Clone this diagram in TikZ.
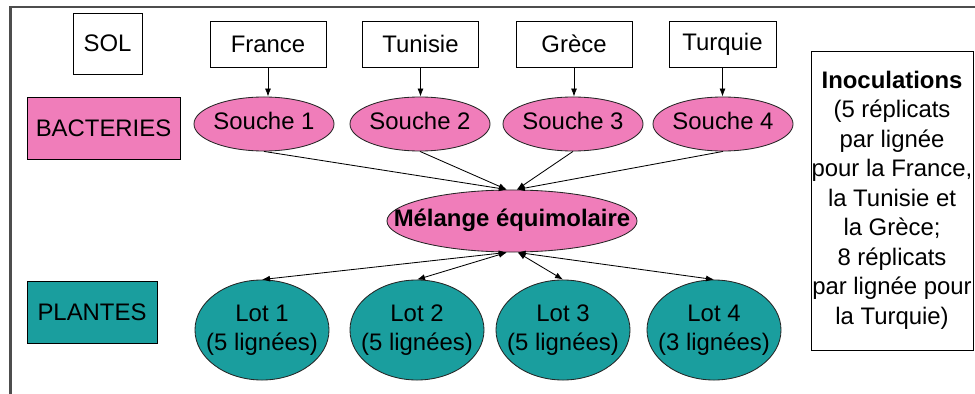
\documentclass[tikz,border=0pt]{standalone}
\usepackage{fontspec}
\setmainfont{Liberation Sans}
\usetikzlibrary{arrows.meta, shapes.geometric}
\definecolor{souchepink}{HTML}{F07DBA}
\definecolor{lotteal}{HTML}{1A9E9E}
\definecolor{framegray}{HTML}{4D4D4D}

% centred text that may run past its shape
\newcommand{\midtext}[1]{\makebox[0pt]{\begin{tabular}{@{}c@{}}#1\end{tabular}}}

\begin{document}
\begin{tikzpicture}[x=0.025cm, y=-0.025cm,
  every node/.style={font=\fontsize{17}{21}\selectfont, inner sep=0pt},
  box/.style={draw, rectangle, line width=0.6pt, fill=white, minimum height=1.15cm},
  souche/.style={draw=black!85, ellipse, line width=0.6pt, fill=souchepink,
    minimum width=3.5cm, minimum height=1.35cm},
  lot/.style={draw=black!85, ellipse, line width=0.6pt, fill=lotteal,
    minimum width=3.35cm, minimum height=2.5cm},
  arr/.style={line width=0.6pt, -{Latex[length=2mm, width=1.5mm]}},
  arrs/.style={line width=0.6pt, {Latex[length=2mm, width=1.5mm]}-{Latex[length=2mm, width=1.5mm]}}]

% Page and frame (top and left edges only, the rest runs off the page)
\fill[white] (0,0) rectangle (975,394);
\fill[framegray] (9,6) rectangle (975,8.5);
\fill[framegray] (9,6) rectangle (11.5,394);

% Row labels
\node[box, minimum width=1.725cm, minimum height=1.525cm] (sol) at (107.5,43.5) {SOL};
\node[box, fill=souchepink, minimum width=3.825cm, minimum height=1.55cm] (bact) at (103.5,128) {BACTERIES};
\node[box, fill=lotteal, minimum width=3.25cm, minimum height=1.55cm] (plantes) at (92,312) {PLANTES};

% --- Soils ---
\foreach \name/\x/\w/\txt in {fr/268/2.9/France, tn/420.5/2.9/Tunisie,
                              gr/574/2.9/Grèce, tr/722.5/2.675/Turquie}
  \node[box, minimum width=\w cm] (\name) at (\x,44) {\txt};

% --- Strains ---
\foreach \i/\x in {1/264, 2/420, 3/573, 4/723}
  \node[souche] (s\i) at (\x,124) {\midtext{Souche \i}};

\foreach \c/\i in {fr/1, tn/2, gr/3, tr/4}
  \draw[arr] (\c.south) -- (\c.south |- s\i.north);

% --- Mix ---
\node[souche, minimum width=6.25cm, minimum height=1.55cm] (mel) at (512,221)
  {\midtext{\bfseries Mélange équimolaire}};

\foreach \i/\dx in {1/-0.13, 2/-0.13, 3/0.12, 4/0.12}
  \draw[arr] (s\i.south) -- ([xshift=\dx cm]mel.north);

% --- Plant lots ---
\foreach \i/\x/\n in {1/262/5, 2/417/5, 3/563/5, 4/714/3}
  \node[lot] (lot\i) at (\x,330) {\midtext{Lot \i\\(\n{} lignées)}};

\foreach \i/\dx in {1/-0.13, 2/-0.13, 3/0.14, 4/0.14}
  \draw[arrs] ([xshift=\dx cm]mel.south) -- (lot\i.north);

% --- Inoculation note ---
\node[box, minimum width=4.05cm, minimum height=7.475cm] (inoc) at (892,200.5)
  {\raisebox{-0.1cm}{\midtext{\textbf{Inoculations}\\(5 réplicats\\par lignée\\pour la France,\\la Tunisie et\\la Grèce;\\8 réplicats\\par lignée pour\\la Turquie)}}};

\end{tikzpicture}
\end{document}
